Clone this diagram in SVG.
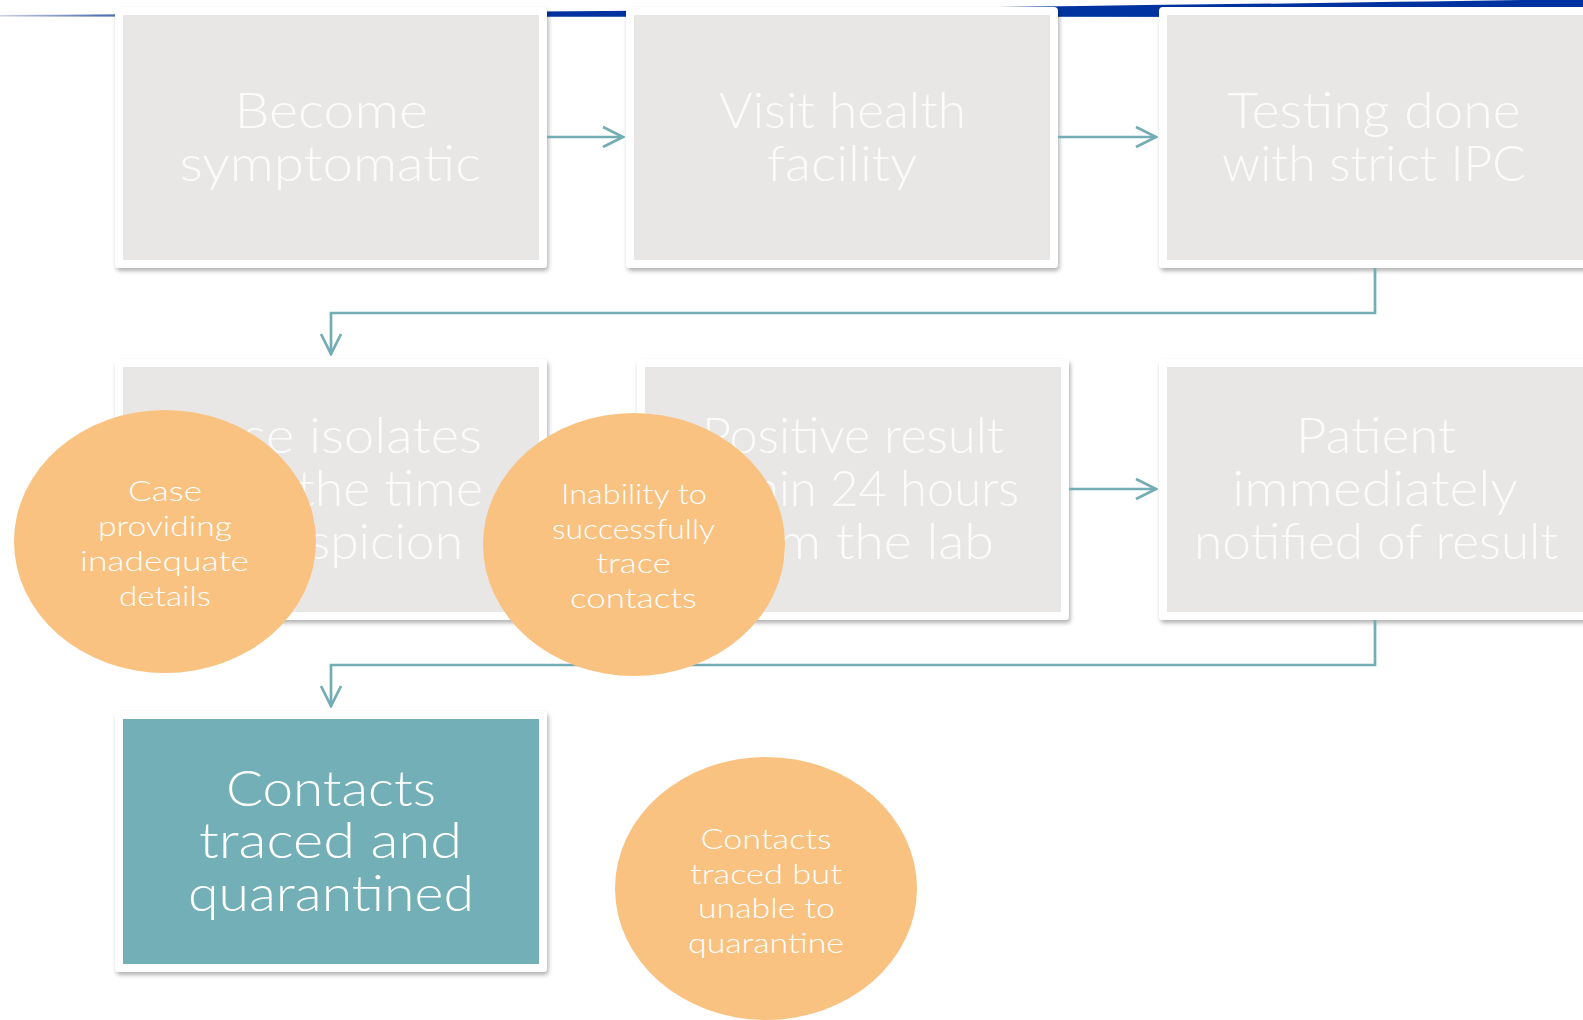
<svg xmlns="http://www.w3.org/2000/svg" width="1583" height="1020" viewBox="0 0 1583 1020">
<defs>
<style>
.frame{fill:#ffffff;}
.inner{fill:#e8e7e5;}
.teal{fill:#73afb6;}
.big{font-family:Lato,"Liberation Sans",sans-serif;font-weight:300;font-size:48.5px;fill:#fbfbfb;}
.bigw{font-family:Lato,"Liberation Sans",sans-serif;font-weight:300;font-size:48.5px;fill:#ffffff;}
.oval{fill:#f9c280;}
.small{font-family:Lato,"Liberation Sans",sans-serif;font-weight:300;font-size:28px;fill:#ffffff;}
.conn{fill:none;stroke:#72adb4;stroke-width:2.7;}
</style>
<linearGradient id="sw" gradientUnits="userSpaceOnUse" x1="0" y1="0" x2="320" y2="0">
<stop offset="0" stop-color="#c8cfdf"/>
<stop offset="0.3" stop-color="#5a76b4"/>
<stop offset="1" stop-color="#0033a0"/>
</linearGradient>
<filter id="sh" x="-5%" y="-5%" width="115%" height="115%">
<feDropShadow dx="1.5" dy="3" stdDeviation="2" flood-color="#000000" flood-opacity="0.3"/>
</filter>
<marker id="ah" viewBox="-23 -12 25 24" refX="0" refY="0" markerWidth="25" markerHeight="24" markerUnits="userSpaceOnUse" orient="auto">
<path d="M-20,-10 L0,0 L-20,10" fill="none" stroke="#72adb4" stroke-width="2.7"/>
</marker>
</defs>
<rect x="0" y="0" width="1583" height="1020" fill="#ffffff"/>
<path d="M0,15 C500,12.5 1100,7 1583,-1 L1583,17 L0,16.6 Z" fill="url(#sw)"/>

<g id="node-become-symptomatic">
<rect class="frame" x="115" y="7" width="432" height="261" rx="4" filter="url(#sh)"/>
<rect class="inner" x="123" y="15" width="416" height="245"/>
<text class="big" x="234.5" y="128" textLength="193.5" lengthAdjust="spacingAndGlyphs">Become</text>
<text class="big" x="179.5" y="181" textLength="301.5" lengthAdjust="spacingAndGlyphs">symptomatic</text>
</g>
<g id="node-visit-health-facility">
<rect class="frame" x="626" y="7" width="432" height="261" rx="4" filter="url(#sh)"/>
<rect class="inner" x="634" y="15" width="416" height="245"/>
<text class="big" x="719" y="128" textLength="247" lengthAdjust="spacingAndGlyphs">Visit health</text>
<text class="big" x="767" y="181" textLength="150" lengthAdjust="spacingAndGlyphs">facility</text>
</g>
<g id="node-testing-done">
<rect class="frame" x="1159" y="7" width="440" height="261" rx="4" filter="url(#sh)"/>
<rect class="inner" x="1167" y="15" width="424" height="245"/>
<text class="big" x="1227.5" y="128" textLength="293" lengthAdjust="spacingAndGlyphs">Testing done</text>
<text class="big" x="1222" y="181" textLength="304" lengthAdjust="spacingAndGlyphs">with strict IPC</text>
</g>
<g id="node-case-isolates">
<rect class="frame" x="115" y="359" width="432" height="261" rx="4" filter="url(#sh)"/>
<rect class="inner" x="123" y="367" width="416" height="245"/>
<text class="big" x="180" y="453" textLength="302" lengthAdjust="spacingAndGlyphs">Case isolates</text>
<text class="big" x="178" y="506" textLength="305" lengthAdjust="spacingAndGlyphs">from the time</text>
<text class="big" x="199" y="559" textLength="264" lengthAdjust="spacingAndGlyphs">of suspicion</text>
</g>
<g id="node-positive-result">
<rect class="frame" x="637" y="359" width="432" height="261" rx="4" filter="url(#sh)"/>
<rect class="inner" x="645" y="367" width="416" height="245"/>
<text class="big" x="702" y="453" textLength="302" lengthAdjust="spacingAndGlyphs">Positive result</text>
<text class="big" x="687" y="506" textLength="332" lengthAdjust="spacingAndGlyphs">within 24 hours</text>
<text class="big" x="712" y="559" textLength="282" lengthAdjust="spacingAndGlyphs">from the lab</text>
</g>
<g id="node-patient-notified">
<rect class="frame" x="1159" y="359" width="440" height="261" rx="4" filter="url(#sh)"/>
<rect class="inner" x="1167" y="367" width="424" height="245"/>
<text class="big" x="1296" y="453" textLength="160" lengthAdjust="spacingAndGlyphs">Patient</text>
<text class="big" x="1232" y="506" textLength="286" lengthAdjust="spacingAndGlyphs">immediately</text>
<text class="big" x="1194" y="559" textLength="364" lengthAdjust="spacingAndGlyphs">notified of result</text>
</g>
<g id="node-contacts-traced">
<rect class="frame" x="115" y="711" width="432" height="261" rx="4" filter="url(#sh)"/>
<rect class="teal" x="123" y="719" width="416" height="245"/>
<text class="bigw" x="226" y="806" textLength="210" lengthAdjust="spacingAndGlyphs">Contacts</text>
<text class="bigw" x="199" y="858" textLength="263" lengthAdjust="spacingAndGlyphs">traced and</text>
<text class="bigw" x="188" y="911" textLength="286" lengthAdjust="spacingAndGlyphs">quarantined</text>
</g>

<g id="connectors">
<path class="conn" d="M547,137 H623" marker-end="url(#ah)"/>
<path class="conn" d="M1058,137 H1156" marker-end="url(#ah)"/>
<path class="conn" d="M1375,268 V313 H331 V354" marker-end="url(#ah)"/>
<path class="conn" d="M1069,489 H1156" marker-end="url(#ah)"/>
<path class="conn" d="M1375,620 V665 H331 V706" marker-end="url(#ah)"/>
</g>

<g id="node-case-inadequate">
<ellipse class="oval" cx="165" cy="541.5" rx="151" ry="131.5"/>
<text class="small" x="128" y="501" textLength="74" lengthAdjust="spacingAndGlyphs">Case</text>
<text class="small" x="98" y="536" textLength="134" lengthAdjust="spacingAndGlyphs">providing</text>
<text class="small" x="80" y="571" textLength="169" lengthAdjust="spacingAndGlyphs">inadequate</text>
<text class="small" x="119" y="606" textLength="92" lengthAdjust="spacingAndGlyphs">details</text>
</g>
<g id="node-inability-trace">
<ellipse class="oval" cx="634" cy="544.5" rx="151" ry="131.5"/>
<text class="small" x="561" y="504" textLength="146" lengthAdjust="spacingAndGlyphs">Inability to</text>
<text class="small" x="552" y="539" textLength="163" lengthAdjust="spacingAndGlyphs">successfully</text>
<text class="small" x="596" y="573" textLength="75" lengthAdjust="spacingAndGlyphs">trace</text>
<text class="small" x="570" y="608" textLength="127" lengthAdjust="spacingAndGlyphs">contacts</text>
</g>
<g id="node-unable-quarantine">
<ellipse class="oval" cx="766" cy="888.5" rx="151" ry="131.5"/>
<text class="small" x="700.5" y="849" textLength="131" lengthAdjust="spacingAndGlyphs">Contacts</text>
<text class="small" x="690" y="884" textLength="152" lengthAdjust="spacingAndGlyphs">traced but</text>
<text class="small" x="698" y="918" textLength="137" lengthAdjust="spacingAndGlyphs">unable to</text>
<text class="small" x="688" y="953" textLength="156" lengthAdjust="spacingAndGlyphs">quarantine</text>
</g>
</svg>
